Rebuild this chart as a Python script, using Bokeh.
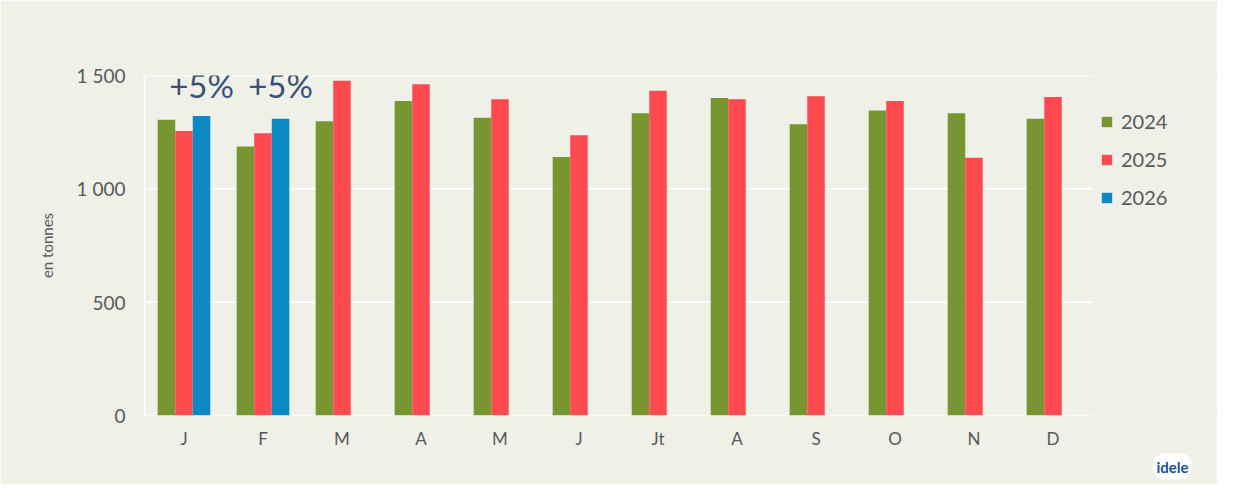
from bokeh.plotting import figure
from bokeh.models import Range1d, FixedTicker, Legend, LegendItem, Title, ColumnDataSource
from bokeh.transform import dodge
from bokeh.embed import file_html
from bokeh.resources import INLINE
from bokeh.core.properties import value

# ---- data ----
months = ["J", "F", "M", "A", "M", "J", "Jt", "A", "S", "O", "N", "D"]
v2024 = [1305, 1187, 1298, 1387, 1314, 1140, 1334, 1401, 1285, 1346, 1333, 1309]
v2025 = [1255, 1245, 1477, 1461, 1395, 1236, 1433, 1395, 1409, 1387, 1137, 1405]
v2026 = [1321, 1309]
ann_labels = ["+5%", "+5%"]
y_ticks = [0, 500, 1000, 1500]
y_tick_labels = ["0", "500", "1 000", "1 500"]

FONT = "Lato"
BG = "#eff0e8"
GREEN = "#779530"
RED = "#ff4b4f"
BLUE = "#0c89c4"
GREY = "#595959"

W, H = 1217, 484
LEFT, TOP, BOTTOM = 144, 75, 69
CAT_PX = 79.0  # pixels per category
x_start = -0.5
x_cat_end = len(months) - 0.5
x_end = x_start + (W - LEFT) / CAT_PX  # frame extends under the legend

idx = list(range(len(months)))
src24 = ColumnDataSource(dict(x=idx, v=v2024))
src25 = ColumnDataSource(dict(x=idx, v=v2025))
src26 = ColumnDataSource(dict(x=idx[:len(v2026)], v=v2026))
srcann = ColumnDataSource(dict(x=idx[:len(v2026)], y=[1458] * len(v2026), t=ann_labels))
srcgrid = ColumnDataSource(dict(x0=[x_start] * len(y_ticks), x1=[x_cat_end] * len(y_ticks), y=y_ticks))

p = figure(width=W, height=H, output_backend="svg", toolbar_location=None,
           x_range=Range1d(x_start, x_end), y_range=Range1d(0, 1500),
           min_border_left=LEFT, min_border_right=0, min_border_top=TOP, min_border_bottom=BOTTOM)
p.background_fill_color = BG
p.border_fill_color = BG
p.outline_line_color = None

# horizontal grid lines limited to the category area
p.segment(x0="x0", x1="x1", y0="y", y1="y", source=srcgrid, line_color="white", line_width=1.5)

off = 0.222
bw = 0.222
r24 = p.vbar(x=dodge("x", -off), top="v", width=bw, source=src24, fill_color=GREEN, line_color=None)
r25 = p.vbar(x=dodge("x", 0.0), top="v", width=bw, source=src25, fill_color=RED, line_color=None)
r26 = p.vbar(x=dodge("x", off), top="v", width=bw, source=src26, fill_color=BLUE, line_color=None)

p.text(x=dodge("x", off), y="y", text="t", source=srcann, text_align="center",
       text_baseline="middle", text_color="#3c5075", text_font=value(FONT),
       text_font_size="33px")

# axes
p.xaxis.ticker = FixedTicker(ticks=idx)
p.xaxis.major_label_overrides = {i: m for i, m in zip(idx, months)}
p.xaxis.major_label_text_font = FONT
p.xaxis.major_label_text_font_size = "17px"
p.xaxis.major_label_text_color = GREY
p.xaxis.major_label_standoff = 6
p.xaxis.major_tick_line_color = None
p.xaxis.minor_tick_line_color = None
p.xaxis.axis_line_color = None

p.yaxis.ticker = FixedTicker(ticks=y_ticks)
p.yaxis.major_label_overrides = {t: l for t, l in zip(y_ticks, y_tick_labels)}
p.yaxis.major_label_text_font = FONT
p.yaxis.major_label_text_font_size = "19px"
p.yaxis.major_label_text_color = GREY
p.yaxis.major_label_standoff = 13
p.yaxis.major_tick_line_color = None
p.yaxis.minor_tick_line_color = None
p.yaxis.axis_line_color = "white"
p.yaxis.axis_line_width = 1.5
p.yaxis.axis_label = "en tonnes"
p.yaxis.axis_label_text_font = FONT
p.yaxis.axis_label_text_font_size = "15px"
p.yaxis.axis_label_text_font_style = "normal"
p.yaxis.axis_label_text_color = GREY
p.yaxis.axis_label_standoff = 18

p.xgrid.grid_line_color = None
p.ygrid.grid_line_color = None

legend = Legend(items=[LegendItem(label="2024", renderers=[r24]),
                       LegendItem(label="2025", renderers=[r25]),
                       LegendItem(label="2026", renderers=[r26])],
                location=(956, 206), orientation="vertical",
                glyph_width=13, glyph_height=13, label_height=21, spacing=14,
                label_standoff=8, padding=0, margin=0,
                label_text_font=FONT, label_text_font_size="20px", label_text_color=GREY,
                background_fill_alpha=0, border_line_color=None)
p.add_layout(legend, "center")

# logo approximation (institute mark, bottom right)
logo = Title(text="idele", align="right", offset=25, standoff=0,
             text_font=FONT, text_font_size="15px", text_font_style="bold",
             text_color="#1d4f9e", background_fill_color="white",
             padding=4, border_radius=12)
p.add_layout(logo, "below")

open("out.html", "w").write(file_html(p, INLINE))
